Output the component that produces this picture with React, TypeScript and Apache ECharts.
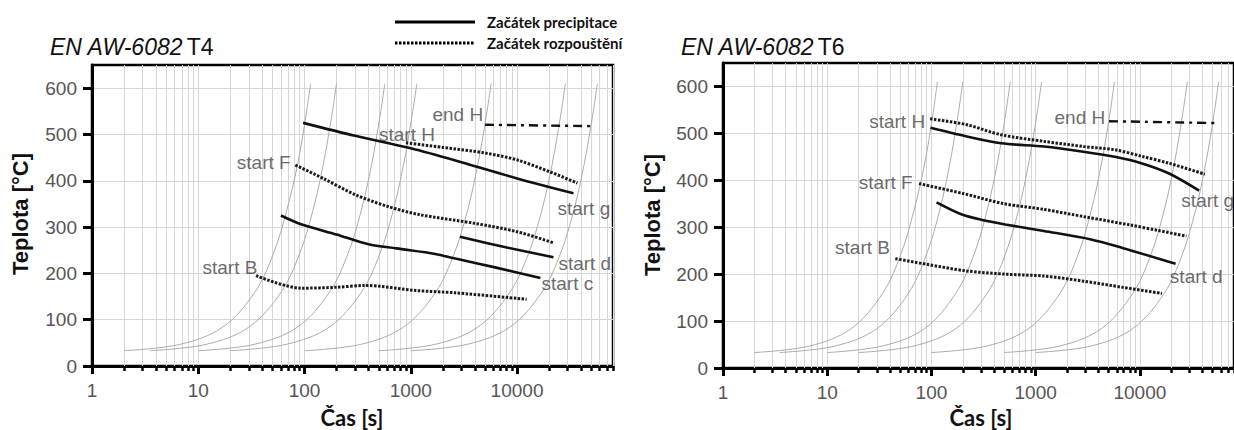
import React, { useEffect, useRef } from "react";
import * as echarts from "echarts";

// ---- axes ----
const X_MIN = 1;
const X_MAX = 80000;
const Y_MIN = 0;
const Y_MAX = 650;
const X_LABELS = [1, 10, 100, 1000, 10000];
const Y_LABELS = [0, 100, 200, 300, 400, 500, 600];

// ---- cooling curves (grey), same in both diagrams ----
const COOL_TEMPS = [33, 47, 84, 159, 243, 336, 435, 539, 610];
const COOL_TIMES = [
  [2, 6.8, 17, 34, 51, 68, 86, 103, 114],
  [3.5, 12, 30, 60, 90, 120, 150, 180, 200],
  [10, 34, 86, 171, 257, 342, 428, 513, 570],
  [20, 68, 171, 342, 513, 684, 855, 1026, 1140],
  [100, 342, 855, 1710, 2565, 3420, 4275, 5130, 5700],
  [500, 1710, 4275, 8550, 12825, 17100, 21375, 25650, 28500],
  [1000, 3420, 8550, 17100, 25650, 34200, 42750, 51300, 57000],
];

// ---- EN AW-6082 T4: [time s, temperature °C] ----
const T4_PRECIP_G = [[97, 525], [300, 497], [1000, 470], [3000, 440], [10000, 405], [34000, 373]];
const T4_PRECIP_D = [[2900, 279], [8000, 256], [22000, 235]];
const T4_PRECIP_C = [[60, 325], [93, 306], [200, 284], [400, 263], [730, 254], [1700, 242], [2630, 232], [6200, 213], [16600, 190]];
const T4_DISSOL_H = [[900, 482], [2000, 472], [5000, 460], [10000, 445], [20000, 420], [37000, 395]];
const T4_DISSOL_F = [[82, 434], [150, 405], [300, 370], [600, 345], [1200, 327], [4000, 308], [10000, 290], [22000, 266]];
const T4_DISSOL_B = [[35, 195], [93, 168], [200, 170], [370, 174], [1120, 163], [2630, 158], [12300, 144]];
const T4_END_H = [[5000, 521], [50000, 518]];

// ---- EN AW-6082 T6 ----
const T6_PRECIP_G = [[98, 512], [214, 494], [466, 479], [1200, 472], [2870, 461], [5750, 450], [10500, 436], [19300, 414], [37000, 378]];
const T6_PRECIP_D = [[112, 353], [196, 327], [300, 316], [510, 306], [1200, 292], [3400, 274], [6800, 256], [22000, 222]];
const T6_DISSOL_H = [[97, 531], [214, 519], [466, 497], [1200, 483], [2870, 472], [5750, 465], [10500, 451], [19300, 436], [42000, 413]];
const T6_DISSOL_F = [[76, 393], [200, 372], [500, 350], [1200, 338], [3000, 322], [8000, 305], [15000, 293], [28000, 281]];
const T6_DISSOL_B = [[45, 233], [90, 221], [215, 207], [510, 200], [1200, 196], [2900, 185], [6800, 172], [16300, 159]];
const T6_END_H = [[5060, 526], [52000, 522]];

// curve names anchored in data space
const T4_NOTES = [
  { name: "end H", value: [4800, 544], align: "right" },
  { name: "start H", value: [920, 500], align: "center" },
  { name: "start F", value: [74, 440], align: "right" },
  { name: "start g", value: [24000, 340], align: "left" },
  { name: "start d", value: [24500, 222], align: "left" },
  { name: "start c", value: [17000, 178], align: "left" },
  { name: "start B", value: [36, 213], align: "right" },
];
const T6_NOTES = [
  { name: "start H", value: [87, 526], align: "right" },
  { name: "end H", value: [4650, 533], align: "right" },
  { name: "start F", value: [66, 396], align: "right" },
  { name: "start g", value: [25000, 357], align: "left" },
  { name: "start d", value: [19400, 196], align: "left" },
  { name: "start B", value: [40, 256], align: "right" },
];

const NARROW = "'Liberation Sans Narrow', 'Arial Narrow', 'Liberation Sans', Arial, sans-serif";
const GRID_C = "#d6d6d6";
const INK = "#111";

const MINOR_TICKS = X_LABELS.flatMap((d) => [2, 3, 4, 5, 6, 7, 8, 9].map((k) => k * d)).filter((v) => v <= X_MAX);

const solid = { color: INK, width: 2.6, type: "solid" };
const dotted = { color: "#1a1a1a", width: 3, type: [2.5, 1.5] };
const dashDot = { color: INK, width: 2.4, type: [9, 5, 3, 5] };

function xAxes(grid: number) {
  return [
    {
      gridIndex: grid,
      type: "log",
      logBase: 10,
      min: X_MIN,
      max: X_MAX,
      position: "bottom",
      axisLine: { show: true, onZero: false, lineStyle: { color: "#000", width: 3 } },
      axisTick: { show: true, customValues: X_LABELS, length: 8, lineStyle: { color: "#000", width: 3 } },
      axisLabel: {
        show: true,
        customValues: X_LABELS,
        formatter: (v: number) => (X_LABELS.includes(Math.round(v)) ? String(Math.round(v)) : ""),
        color: "#555",
        fontSize: 19,
        fontFamily: NARROW,
        margin: 15,
      },
      splitLine: { show: true, lineStyle: { color: GRID_C, width: 1 } },
    },
    {
      gridIndex: grid,
      type: "log",
      logBase: 10,
      min: X_MIN,
      max: X_MAX,
      position: "bottom",
      axisLine: { show: false },
      axisTick: { show: true, customValues: MINOR_TICKS, length: 5, lineStyle: { color: "#000", width: 2.5 } },
      axisLabel: { show: false },
      splitLine: { show: false },
    },
  ];
}

function yAxis(grid: number) {
  return {
    gridIndex: grid,
    type: "value",
    min: Y_MIN,
    max: Y_MAX,
    interval: 100,
    axisLine: { show: true, onZero: false, lineStyle: { color: "#000", width: 3 } },
    axisTick: { show: true, customValues: Y_LABELS, length: 9, lineStyle: { color: "#000", width: 3 } },
    axisLabel: {
      customValues: Y_LABELS,
      formatter: (v: number) => (v <= 600 ? String(v) : ""),
      color: "#555",
      fontSize: 19,
      fontFamily: NARROW,
      margin: 15,
    },
    splitLine: { show: true, lineStyle: { color: GRID_C, width: 1 } },
  };
}

function panelSeries(grid: number, curves: { data: number[][]; style: any }[], notes: any[]) {
  const xi = grid * 2;
  const out: any[] = [];
  COOL_TIMES.forEach((times, i) => {
    const s: any = {
      type: "line",
      xAxisIndex: xi,
      yAxisIndex: grid,
      data: times.map((t, k) => [t, COOL_TEMPS[k]]),
      smooth: 0.35,
      showSymbol: false,
      silent: true,
      z: 2,
      lineStyle: { color: "#ababab", width: 1 },
    };
    if (i === 0) {
      s.markLine = {
        silent: true,
        symbol: ["none", "none"],
        label: { show: false },
        lineStyle: { color: GRID_C, width: 1, type: "solid" },
        data: MINOR_TICKS.map((v) => ({ xAxis: v })),
        z: 1,
      };
    }
    out.push(s);
  });
  curves.forEach((c) => {
    out.push({
      type: "line",
      xAxisIndex: xi,
      yAxisIndex: grid,
      data: c.data,
      smooth: 0.3,
      showSymbol: false,
      silent: true,
      z: 4,
      lineStyle: c.style,
    });
  });
  out.push({
    type: "scatter",
    xAxisIndex: xi,
    yAxisIndex: grid,
    symbolSize: 0.1,
    itemStyle: { color: "rgba(0,0,0,0)" },
    silent: true,
    z: 5,
    data: notes.map((n) => ({
      name: n.name,
      value: n.value,
      label: { align: n.align },
    })),
    label: {
      show: true,
      position: "inside",
      verticalAlign: "middle",
      formatter: "{b}",
      color: "#444",
      fontSize: 19,
      fontFamily: NARROW,
    },
  });
  return out;
}

function titleText(x: number, tempering: string) {
  return {
    type: "text",
    x,
    y: 47,
    style: {
      text: `{i|EN AW-6082} {n|${tempering}}`,
      verticalAlign: "middle",
      rich: {
        i: { fontFamily: NARROW, fontStyle: "italic", fontSize: 23, fill: "#111" },
        n: { fontFamily: NARROW, fontSize: 23, fill: "#111" },
      },
    },
  };
}

export default function App() {
  const ref = useRef<HTMLDivElement>(null);

  useEffect(() => {
    if (!ref.current) return;
    const chart = echarts.init(ref.current, undefined, { renderer: "svg" });
    chart.setOption({
      animation: false,
      backgroundColor: "#fff",
      grid: [
        { left: 92, top: 65, width: 521, height: 301, show: true, borderColor: "#000", borderWidth: 2.5, backgroundColor: "transparent" },
        { left: 723, top: 63, width: 517, height: 305, show: true, borderColor: "#000", borderWidth: 2.5, backgroundColor: "transparent" },
      ],
      xAxis: [...xAxes(0), ...xAxes(1)],
      yAxis: [yAxis(0), yAxis(1)],
      series: [
        ...panelSeries(
          0,
          [
            { data: T4_PRECIP_G, style: solid },
            { data: T4_PRECIP_D, style: solid },
            { data: T4_PRECIP_C, style: solid },
            { data: T4_DISSOL_H, style: dotted },
            { data: T4_DISSOL_F, style: dotted },
            { data: T4_DISSOL_B, style: dotted },
            { data: T4_END_H, style: dashDot },
          ],
          T4_NOTES
        ),
        ...panelSeries(
          1,
          [
            { data: T6_PRECIP_G, style: solid },
            { data: T6_PRECIP_D, style: solid },
            { data: T6_DISSOL_H, style: dotted },
            { data: T6_DISSOL_F, style: dotted },
            { data: T6_DISSOL_B, style: dotted },
            { data: T6_END_H, style: dashDot },
          ],
          T6_NOTES
        ),
      ],
      graphic: [
        titleText(50, "T4"),
        titleText(681, "T6"),
        // legend
        { type: "line", shape: { x1: 395, y1: 22, x2: 475, y2: 22 }, style: { stroke: "#000", lineWidth: 3 } },
        { type: "line", shape: { x1: 395, y1: 43, x2: 475, y2: 43 }, style: { stroke: "#000", lineWidth: 3, lineDash: [2.5, 1.5] } },
        { type: "text", x: 487, y: 22, style: { text: "Začátek precipitace", fontFamily: "Lato", fontWeight: "bold", fontSize: 15, fill: "#111", verticalAlign: "middle" } },
        { type: "text", x: 487, y: 43, style: { text: "Začátek rozpouštění", fontFamily: "Lato", fontWeight: "bold", fontSize: 15, fill: "#111", verticalAlign: "middle" } },
        // axis titles
        { type: "text", x: 20, y: 214, rotation: Math.PI / 2, style: { text: "Teplota [°C]", fontFamily: "'Liberation Sans', Arial, sans-serif", fontWeight: "bold", fontSize: 22, fill: "#111", align: "center", verticalAlign: "middle" } },
        { type: "text", x: 652, y: 215, rotation: Math.PI / 2, style: { text: "Teplota [°C]", fontFamily: "'Liberation Sans', Arial, sans-serif", fontWeight: "bold", fontSize: 22, fill: "#111", align: "center", verticalAlign: "middle" } },
        { type: "text", x: 352, y: 417, style: { text: "Čas [s]", fontFamily: "Lato", fontWeight: "bold", fontSize: 22, fill: "#111", align: "center", verticalAlign: "middle" } },
        { type: "text", x: 981, y: 417, style: { text: "Čas [s]", fontFamily: "Lato", fontWeight: "bold", fontSize: 22, fill: "#111", align: "center", verticalAlign: "middle" } },
      ],
    });
    return () => chart.dispose();
  }, []);

  return <div ref={ref} style={{ position: "absolute", left: 0, top: 0, width: 1234, height: 430 }} />;
}
